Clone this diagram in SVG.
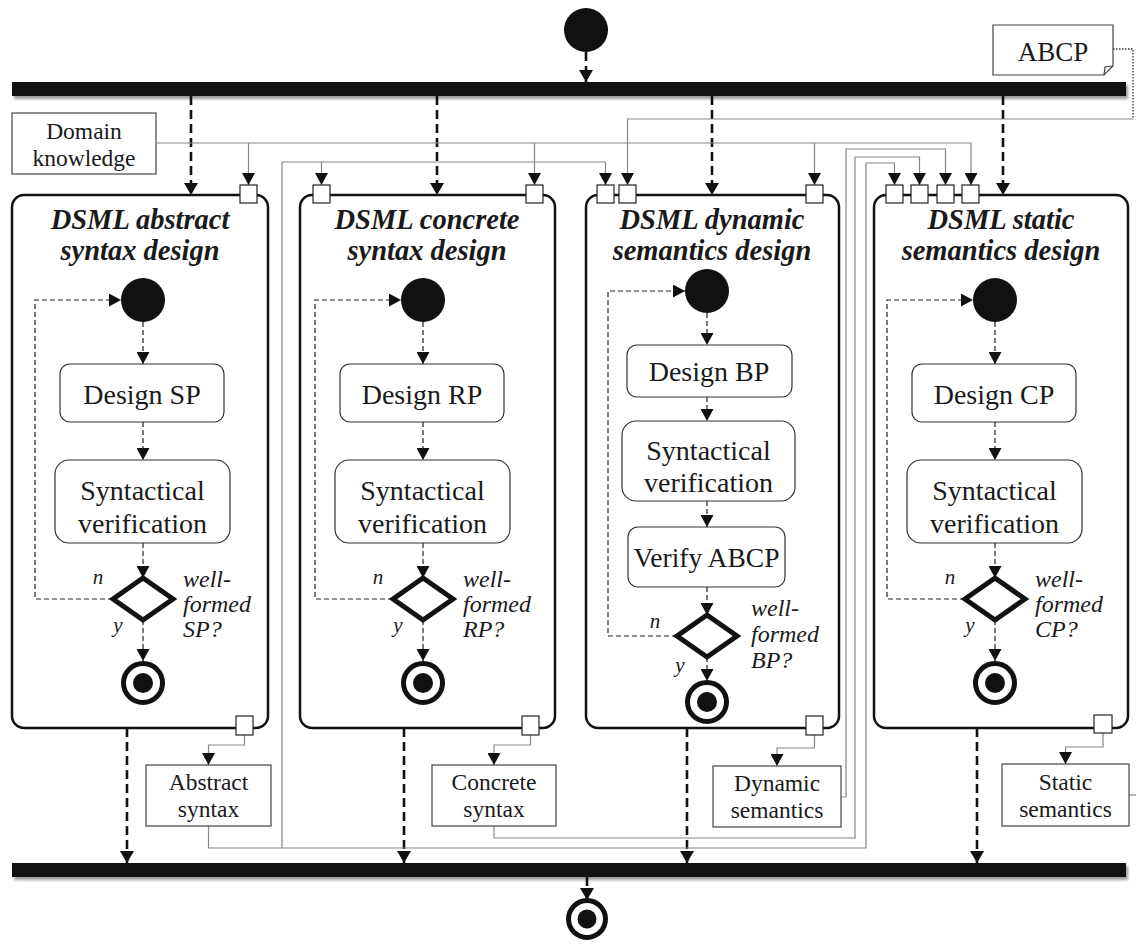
<svg xmlns="http://www.w3.org/2000/svg" width="1136" height="950" viewBox="0 0 1136 950">
  <style>
    .bar { fill: #111; }
    .panel { fill: #fff; stroke: #111; stroke-width: 2.5; }
    .port { fill: #fff; stroke: #222; stroke-width: 1.2; }
    .obj { fill: #fff; stroke: #444; stroke-width: 1.2; }
    .act { fill: #fff; stroke: #333; stroke-width: 1.2; }
    .flow { fill: none; stroke: #111; stroke-width: 2.6; stroke-dasharray: 9 5; marker-end: url(#tipBig); }
    .iflow { fill: none; stroke: #222; stroke-width: 1.2; stroke-dasharray: 5 3; }
    .iarr { marker-end: url(#tipSm); }
    .wire { fill: none; stroke: #888; stroke-width: 1.2; }
    .warr { marker-end: url(#tipSm); }
    .dot { fill: none; stroke: #333; stroke-width: 1.3; stroke-dasharray: 1.5 1.5; }
    .init { fill: #111; }
    .final { fill: #fff; stroke: #111; stroke-width: 5; }
    .core { fill: #111; }
    .dec { fill: #fff; stroke: #111; stroke-width: 5; stroke-linejoin: miter; }
    .title { font-family: "Liberation Serif", "Times New Roman", serif; font-size: 28.5px; font-weight: bold; font-style: italic; fill: #1a1a1a; text-anchor: middle; }
    .lbl { font-family: "Liberation Serif", "Times New Roman", serif; font-size: 28px; fill: #1a1a1a; text-anchor: middle; }
    .olbl { font-family: "Liberation Serif", "Times New Roman", serif; font-size: 23.5px; fill: #1a1a1a; text-anchor: middle; }
    .guard { font-family: "Liberation Serif", "Times New Roman", serif; font-size: 24px; font-style: italic; fill: #1a1a1a; }
    .yn { font-family: "Liberation Serif", "Times New Roman", serif; font-size: 21px; font-style: italic; fill: #1a1a1a; text-anchor: middle; }
  </style>
  <defs>
    <marker id="tipBig" viewBox="0 0 12 14" refX="12" refY="7" markerWidth="12" markerHeight="14" orient="auto" markerUnits="userSpaceOnUse">
      <path d="M0,0 L12,7 L0,14 Z" fill="#111"/>
    </marker>
    <marker id="tipSm" viewBox="0 0 12 13" refX="12" refY="6.5" markerWidth="12" markerHeight="13" orient="auto" markerUnits="userSpaceOnUse">
      <path d="M0,0 L12,6.5 L0,13 Z" fill="#111"/>
    </marker>
    <filter id="soft" x="-5%" y="-50%" width="110%" height="200%">
      <feGaussianBlur stdDeviation="1.5"/>
    </filter>
  </defs>

  <!-- fork and join bars -->
  <g id="fork">
    <rect x="14" y="85" width="1114" height="14" fill="#999" filter="url(#soft)"/>
    <rect class="bar" x="12" y="82" width="1114" height="14"/>
  </g>
  <g id="join">
    <rect x="14" y="866" width="1114" height="14" fill="#999" filter="url(#soft)"/>
    <rect class="bar" x="12" y="863" width="1114" height="14"/>
  </g>

  <!-- global start / end -->
  <g id="start"><circle class="init" cx="586" cy="30" r="22"/></g>
  <g id="end">
    <circle class="final" cx="587" cy="919" r="18.5"/>
    <circle class="core" cx="587" cy="919" r="9.5"/>
  </g>

  <!-- inputs -->
  <g id="domain-knowledge">
    <rect class="obj" x="12" y="113" width="144" height="61"/>
    <text class="olbl" x="84" y="139">Domain</text>
    <text class="olbl" x="84" y="166">knowledge</text>
  </g>
  <g id="abcp">
    <path class="obj" d="M993,25 H1113 V66 L1104,75 H993 Z"/>
    <path d="M1104,75 L1105,67 L1113,66" fill="none" stroke="#444" stroke-width="1.2"/>
    <text class="lbl" x="1053" y="61" style="font-size:27px">ABCP</text>
  </g>

  <!-- connectors -->
  <g id="connectors">
    <!-- control flow -->
    <path class="flow" d="M586,52 V82"/>
    <path class="flow" d="M191,96 V195"/>
    <path class="flow" d="M437,96 V195"/>
    <path class="flow" d="M712,96 V195"/>
    <path class="flow" d="M1003,96 V195"/>
    <path class="flow" d="M127,728 V863"/>
    <path class="flow" d="M404,728 V863"/>
    <path class="flow" d="M687,728 V863"/>
    <path class="flow" d="M977,728 V863"/>
    <path class="flow" d="M587,877 V900"/>

    <!-- domain knowledge distribution -->
    <path class="wire warr" d="M156,143 H971 V185"/>
    <path class="wire warr" d="M248.5,143 V185"/>
    <path class="wire warr" d="M534.5,143 V185"/>
    <path class="wire warr" d="M814.5,143 V185"/>

    <!-- ABCP -->
    <path class="dot" d="M1113,49 H1133 V119"/>
    <path class="wire warr" d="M1133,119 H627.5 V185"/>

    <!-- abstract syntax -->
    <path class="wire warr" d="M208.5,826 V848 H866 V163 H894.5 V185"/>
    <path class="wire warr" d="M282,848 V162 H605.5 V185"/>
    <path class="wire warr" d="M321.5,162 V185"/>

    <!-- concrete syntax -->
    <path class="wire warr" d="M494,826 V838 H855 V157 H919.5 V185"/>

    <!-- dynamic semantics -->
    <path class="wire warr" d="M841,797 H846 V149 H945.5 V185"/>

    <!-- static semantics -->
    <path class="wire" d="M1129,795 H1136"/>

    <!-- outputs -->
    <path class="wire warr" d="M244.5,735 V745 H208.5 V765"/>
    <path class="wire warr" d="M530.5,735 V745 H494 V765"/>
    <path class="wire warr" d="M814.5,735 V748 H777 V766"/>
    <path class="wire warr" d="M1103,733 V747 H1065.5 V764"/>
  </g>

  <!-- DSML abstract syntax design -->
  <g id="abstract-syntax-design">
    <rect class="panel" x="12" y="195" width="256" height="533" rx="12"/>
    <rect class="port" x="240" y="185" width="17" height="18"/>
    <rect class="port" x="236" y="716" width="17" height="19"/>
    <text class="title" x="140" y="229">DSML abstract</text>
    <text class="title" x="140" y="260">syntax design</text>
    <circle class="init" cx="143" cy="300" r="22"/>
    <path class="iflow iarr" d="M143,322 V364"/>
    <rect class="act" x="60" y="364" width="164" height="58" rx="10"/>
    <text class="lbl" x="142" y="404">Design SP</text>
    <path class="iflow iarr" d="M143,422 V460"/>
    <rect class="act" x="55" y="460" width="175" height="83" rx="14"/>
    <text class="lbl" x="142.5" y="500">Syntactical</text>
    <text class="lbl" x="142.5" y="533">verification</text>
    <path class="iflow iarr" d="M143,543 V578"/>
    <polygon class="dec" points="143,578 173,599 143,620 113,599"/>
    <path class="iflow iarr" d="M143,620 V661"/>
    <path class="iflow iarr" d="M113,599 H35 V300 H121"/>
    <circle class="final" cx="143" cy="683" r="19.5"/>
    <circle class="core" cx="143" cy="683" r="10"/>
    <text class="yn" x="98" y="584">n</text>
    <text class="yn" x="118" y="632">y</text>
    <text class="guard" x="183" y="587">well-</text>
    <text class="guard" x="183" y="612">formed</text>
    <text class="guard" x="183" y="637">SP?</text>
  </g>

  <!-- DSML concrete syntax design -->
  <g id="concrete-syntax-design">
    <rect class="panel" x="300" y="195" width="255" height="533" rx="12"/>
    <rect class="port" x="313" y="185" width="17" height="18"/>
    <rect class="port" x="526" y="185" width="17" height="18"/>
    <rect class="port" x="522" y="716" width="17" height="19"/>
    <text class="title" x="427" y="229">DSML concrete</text>
    <text class="title" x="427" y="260">syntax design</text>
    <circle class="init" cx="423" cy="300" r="22"/>
    <path class="iflow iarr" d="M423,322 V364"/>
    <rect class="act" x="340" y="364" width="164" height="58" rx="10"/>
    <text class="lbl" x="422" y="404">Design RP</text>
    <path class="iflow iarr" d="M423,422 V460"/>
    <rect class="act" x="335" y="460" width="175" height="83" rx="14"/>
    <text class="lbl" x="422.5" y="500">Syntactical</text>
    <text class="lbl" x="422.5" y="533">verification</text>
    <path class="iflow iarr" d="M423,543 V578"/>
    <polygon class="dec" points="423,578 453,599 423,620 393,599"/>
    <path class="iflow iarr" d="M423,620 V661"/>
    <path class="iflow iarr" d="M393,599 H315 V300 H401"/>
    <circle class="final" cx="423" cy="683" r="19.5"/>
    <circle class="core" cx="423" cy="683" r="10"/>
    <text class="yn" x="378" y="584">n</text>
    <text class="yn" x="398" y="632">y</text>
    <text class="guard" x="463" y="587">well-</text>
    <text class="guard" x="463" y="612">formed</text>
    <text class="guard" x="463" y="637">RP?</text>
  </g>

  <!-- DSML dynamic semantics design -->
  <g id="dynamic-semantics-design">
    <rect class="panel" x="586" y="195" width="253" height="533" rx="12"/>
    <rect class="port" x="597" y="185" width="17" height="18"/>
    <rect class="port" x="619" y="185" width="17" height="18"/>
    <rect class="port" x="806" y="185" width="17" height="18"/>
    <rect class="port" x="806" y="716" width="17" height="19"/>
    <text class="title" x="712" y="229">DSML dynamic</text>
    <text class="title" x="712" y="260">semantics design</text>
    <circle class="init" cx="707" cy="291" r="22"/>
    <path class="iflow iarr" d="M707,313 V345"/>
    <rect class="act" x="627" y="345" width="165" height="52" rx="10"/>
    <text class="lbl" x="709" y="381">Design BP</text>
    <path class="iflow iarr" d="M707,397 V421"/>
    <rect class="act" x="622" y="421" width="173" height="80" rx="14"/>
    <text class="lbl" x="708.5" y="460">Syntactical</text>
    <text class="lbl" x="708.5" y="492">verification</text>
    <path class="iflow iarr" d="M707,501 V527"/>
    <rect class="act" x="628" y="527" width="157" height="60" rx="10"/>
    <text class="lbl" x="706.5" y="567" style="font-size:27.5px">Verify ABCP</text>
    <path class="iflow iarr" d="M707,587 V615"/>
    <polygon class="dec" points="707,615 737,636 707,657 677,636"/>
    <path class="iflow iarr" d="M707,657 V681"/>
    <path class="iflow iarr" d="M677,636 H608 V291 H685"/>
    <circle class="final" cx="707" cy="702" r="19.5"/>
    <circle class="core" cx="707" cy="702" r="10"/>
    <text class="yn" x="655" y="628">n</text>
    <text class="yn" x="680" y="672">y</text>
    <text class="guard" x="751" y="616">well-</text>
    <text class="guard" x="751" y="642">formed</text>
    <text class="guard" x="751" y="668">BP?</text>
  </g>

  <!-- DSML static semantics design -->
  <g id="static-semantics-design">
    <rect class="panel" x="874" y="195" width="254" height="533" rx="12"/>
    <rect class="port" x="886" y="185" width="17" height="18"/>
    <rect class="port" x="911" y="185" width="17" height="18"/>
    <rect class="port" x="937" y="185" width="17" height="18"/>
    <rect class="port" x="962" y="185" width="17" height="18"/>
    <rect class="port" x="1094" y="715" width="18" height="18"/>
    <text class="title" x="1001" y="229">DSML static</text>
    <text class="title" x="1001" y="260">semantics design</text>
    <circle class="init" cx="995" cy="300" r="22"/>
    <path class="iflow iarr" d="M995,322 V364"/>
    <rect class="act" x="912" y="364" width="164" height="58" rx="10"/>
    <text class="lbl" x="994" y="404">Design CP</text>
    <path class="iflow iarr" d="M995,422 V460"/>
    <rect class="act" x="907" y="460" width="175" height="83" rx="14"/>
    <text class="lbl" x="994.5" y="500">Syntactical</text>
    <text class="lbl" x="994.5" y="533">verification</text>
    <path class="iflow iarr" d="M995,543 V578"/>
    <polygon class="dec" points="995,578 1025,599 995,620 965,599"/>
    <path class="iflow iarr" d="M995,620 V661"/>
    <path class="iflow iarr" d="M965,599 H887 V300 H973"/>
    <circle class="final" cx="995" cy="683" r="19.5"/>
    <circle class="core" cx="995" cy="683" r="10"/>
    <text class="yn" x="950" y="584">n</text>
    <text class="yn" x="970" y="632">y</text>
    <text class="guard" x="1035" y="587">well-</text>
    <text class="guard" x="1035" y="612">formed</text>
    <text class="guard" x="1035" y="637">CP?</text>
  </g>

  <!-- outputs -->
  <g id="abstract-syntax">
    <rect class="obj" x="146" y="765" width="125" height="61"/>
    <text class="olbl" x="208.5" y="790">Abstract</text>
    <text class="olbl" x="208.5" y="817">syntax</text>
  </g>
  <g id="concrete-syntax">
    <rect class="obj" x="432" y="765" width="124" height="61"/>
    <text class="olbl" x="494" y="790">Concrete</text>
    <text class="olbl" x="494" y="817">syntax</text>
  </g>
  <g id="dynamic-semantics">
    <rect class="obj" x="713" y="766" width="128" height="61"/>
    <text class="olbl" x="777" y="791">Dynamic</text>
    <text class="olbl" x="777" y="818">semantics</text>
  </g>
  <g id="static-semantics">
    <rect class="obj" x="1002" y="764" width="127" height="62"/>
    <text class="olbl" x="1065.5" y="790">Static</text>
    <text class="olbl" x="1065.5" y="817">semantics</text>
  </g>
</svg>
